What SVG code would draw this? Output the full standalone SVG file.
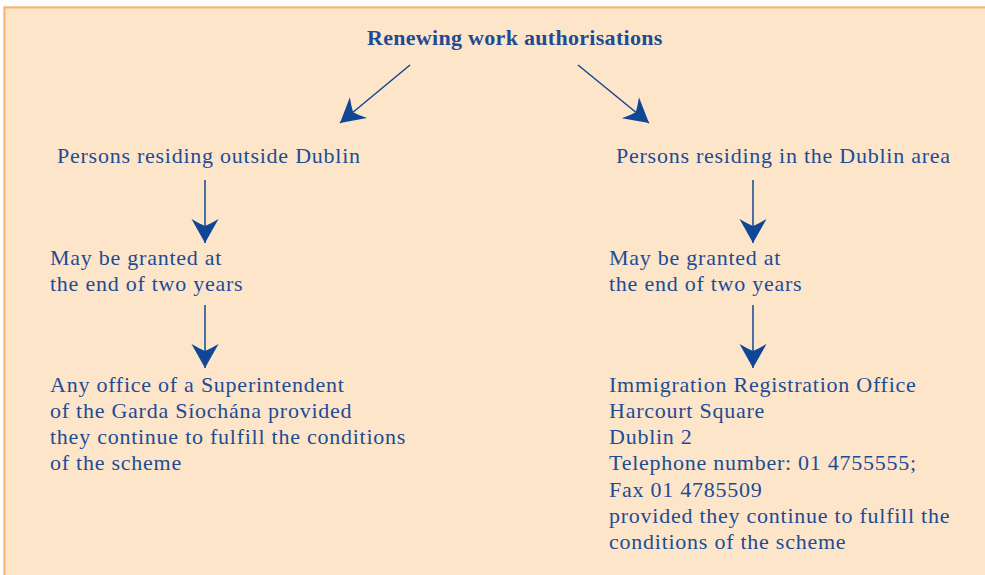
<svg xmlns="http://www.w3.org/2000/svg" width="985" height="575" viewBox="0 0 985 575">
<style>
.t{font-family:"Liberation Serif","Times New Roman",serif;font-size:22px;fill:#1D4C95;letter-spacing:0.75px}
.b{font-weight:bold;letter-spacing:0.3px}
.c{stroke:#0F4796;stroke-width:1.5;fill:none;marker-end:url(#ah)}
</style>
<defs>
<marker id="ah" viewBox="-25 -15 27 30" refX="0" refY="0" markerWidth="27" markerHeight="30" markerUnits="userSpaceOnUse" orient="auto">
<path d="M0,0 L-24,-13.5 Q-19.5,-6 -17,0 Q-19.5,6 -24,13.5 Z" fill="#0F4796"/>
</marker>
</defs>
<rect x="3" y="6" width="985" height="575" fill="#FDE5CA"/>
<path d="M4.5,575 V7.5 H985" fill="none" stroke="#F8B56E" stroke-width="2"/>
<g id="connectors">
<line class="c" x1="410" y1="65" x2="340" y2="123"/>
<line class="c" x1="578" y1="65" x2="649" y2="123"/>
<line class="c" x1="205" y1="180" x2="205" y2="243"/>
<line class="c" x1="205" y1="305" x2="205" y2="368"/>
<line class="c" x1="753" y1="180" x2="753" y2="243"/>
<line class="c" x1="753" y1="305" x2="753" y2="368"/>
</g>
<g id="title"><text class="t b" x="367" y="45">Renewing work authorisations</text></g>
<g id="outside"><text class="t" x="57" y="163">Persons residing outside Dublin</text></g>
<g id="dublin"><text class="t" x="616" y="163">Persons residing in the Dublin area</text></g>
<g id="grant-left"><text class="t" x="50" y="265">May be granted at</text><text class="t" x="50" y="291">the end of two years</text></g>
<g id="grant-right"><text class="t" x="609" y="265">May be granted at</text><text class="t" x="609" y="291">the end of two years</text></g>
<g id="office-left">
<text class="t" x="50" y="392">Any office of a Superintendent</text>
<text class="t" x="50" y="418">of the Garda Síochána provided</text>
<text class="t" x="50" y="444">they continue to fulfill the conditions</text>
<text class="t" x="50" y="470">of the scheme</text>
</g>
<g id="office-right">
<text class="t" x="609" y="392">Immigration Registration Office</text>
<text class="t" x="609" y="418">Harcourt Square</text>
<text class="t" x="609" y="444">Dublin 2</text>
<text class="t" x="609" y="470">Telephone number: 01 4755555;</text>
<text class="t" x="609" y="497">Fax 01 4785509</text>
<text class="t" x="609" y="523">provided they continue to fulfill the</text>
<text class="t" x="609" y="549">conditions of the scheme</text>
</g>
</svg>
